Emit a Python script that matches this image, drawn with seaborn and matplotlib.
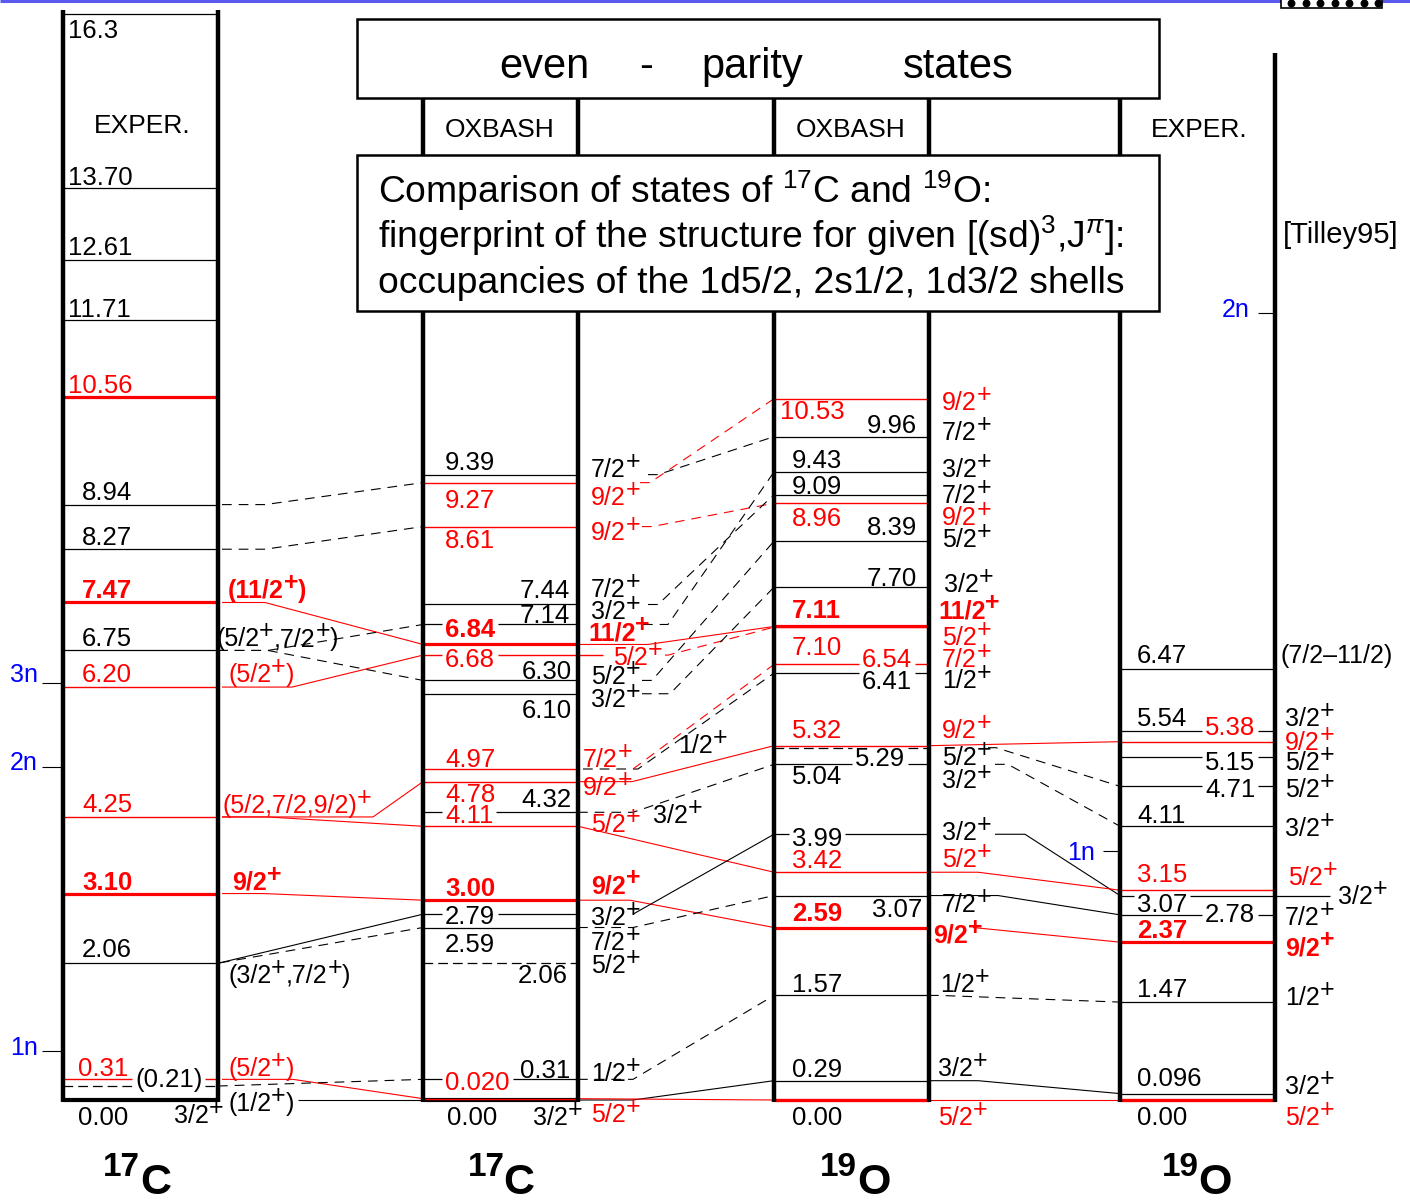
import matplotlib
matplotlib.use("Agg")
import matplotlib.pyplot as plt
import matplotlib.patches as mpatches
import matplotlib.transforms as mtransforms
from matplotlib.font_manager import FontProperties
import seaborn as sns

# ------------------------------------------------------------------ data
# Level energies in MeV as printed; spins use "^" for a superscript.
# kind: k black, kd black dashed, r red, rt thick red, R thick red (bold),
#       K thick black ground state, rg thick red ground state

# 17C, experiment
c17_exp_levels = ["16.3", "13.70", "12.61", "11.71", "10.56", "8.94", "8.27",
                  "7.47", "6.75", "6.20", "4.25", "3.10", "2.06", "0.31",
                  "(0.21)", "0.00"]
c17_exp_jpi = ["", "", "", "", "", "", "", "(11/2^+)", "(5/2^+,7/2^+)",
               "(5/2^+)", "(5/2,7/2,9/2)^+", "9/2^+", "(3/2^+,7/2^+)",
               "(5/2^+)", "", "3/2^+"]
c17_exp_kind = ["k", "k", "k", "k", "rt", "k", "k", "R", "k", "r", "r", "R",
                "k", "r", "kd", "K"]

# 17C, OXBASH shell model
c17_sm_levels = ["9.39", "9.27", "8.61", "7.44", "7.14", "6.84", "6.68", "6.30",
                 "6.10", "4.97", "4.78", "4.32", "4.11", "3.00", "2.79", "2.59",
                 "2.06", "0.31", "0.020", "0.00"]
c17_sm_jpi = ["7/2^+", "9/2^+", "9/2^+", "7/2^+", "3/2^+", "11/2^+", "5/2^+",
              "5/2^+", "3/2^+", "7/2^+", "9/2^+", "3/2^+", "5/2^+", "9/2^+",
              "3/2^+", "7/2^+", "5/2^+", "1/2^+", "5/2^+", "3/2^+"]
c17_sm_kind = ["k", "r", "r", "k", "k", "R", "r", "k", "k", "r", "r", "k", "r",
               "R", "k", "k", "kd", "k", "r", "K"]

# 19O, OXBASH shell model
o19_sm_levels = ["10.53", "9.96", "9.43", "9.09", "8.96", "8.39", "7.70", "7.11",
                 "7.10", "6.54", "6.41", "5.32", "5.29", "5.04", "3.99", "3.42",
                 "3.07", "2.59", "1.57", "0.29", "0.00"]
o19_sm_jpi = ["9/2^+", "7/2^+", "3/2^+", "7/2^+", "9/2^+", "5/2^+", "3/2^+",
              "11/2^+", "5/2^+", "7/2^+", "1/2^+", "9/2^+", "5/2^+", "3/2^+",
              "3/2^+", "5/2^+", "7/2^+", "9/2^+", "1/2^+", "3/2^+", "5/2^+"]
o19_sm_kind = ["r", "k", "k", "k", "r", "k", "k", "R", "r", "r", "k", "r", "kd",
               "k", "k", "r", "k", "R", "k", "k", "rg"]

# 19O, experiment [Tilley95]
o19_exp_levels = ["6.47", "5.54", "5.38", "5.15", "4.71", "4.11", "3.15", "3.07",
                  "2.78", "2.37", "1.47", "0.096", "0.00"]
o19_exp_jpi = ["(7/2\u201311/2)", "3/2^+", "9/2^+", "5/2^+", "5/2^+", "3/2^+",
               "5/2^+", "3/2^+", "7/2^+", "9/2^+", "1/2^+", "3/2^+", "5/2^+"]
o19_exp_kind = ["k", "k", "r", "k", "k", "k", "r", "k", "k", "R", "k", "k", "rg"]

# correspondences between neighbouring columns (source MeV, target MeV)
links_c17 = [(8.94, 9.27), (8.27, 8.61), (7.47, 6.84), (6.75, 7.14), (6.75, 6.30),
             (6.20, 6.68), (4.25, 4.11), (4.25, 4.78), (3.10, 3.00), (2.06, 2.79),
             (2.06, 2.59), (0.31, 0.020), (0.21, 0.31), (0.00, 0.00)]
links_sm = [(9.39, 9.96), (9.27, 10.53), (8.61, 8.96), (7.44, 9.09), (7.14, 9.43),
            (6.84, 7.11), (6.68, 7.10), (6.30, 8.39), (6.10, 7.70), (4.97, 6.41),
            (4.97, 6.54), (4.78, 5.32), (4.32, 5.04), (4.11, 3.42), (3.00, 2.59),
            (2.79, 3.99), (2.59, 3.07), (0.31, 1.57), (0.00, 0.29), (0.020, 0.00)]
links_o19 = [(5.32, 5.38), (5.29, 4.71), (5.04, 4.11), (3.99, 3.07), (3.42, 3.15),
             (3.07, 2.78), (2.59, 2.37), (1.57, 1.47), (0.29, 0.096), (0.00, 0.00)]

# particle-emission thresholds (MeV)
c17_thr_names = ["3n", "2n", "1n"]
c17_thr_E = [6.26, 5.00, 0.74]
o19_thr_names = ["2n", "1n"]
o19_thr_E = [11.82, 3.74]

# ---------------------------------------------------------------- layout
W, H = 1410, 1202
Y0 = 1100            # pixel row of the 0 MeV line
PX_PER_MEV = 66.6
VAL_SIZE = 18.5
SPIN_SIZE = 18
SUP_RAISE = 8

# value label: (x, dy, align, breaks lines) ; spin label: (x, dy)
c17_exp_vlab = [(68, -24, "l", 0), (68, 3, "l", 0), (68, 5, "l", 0), (68, 3, "l", 0),
                (68, 4, "l", 0), (82, 5, "l", 0), (82, 4, "l", 0), (82, 4, "l", 0),
                (82, 4, "l", 0), (82, 5, "l", 0), (82, 5, "l", 0), (82, 4, "l", 0),
                (82, 6, "l", 0), (78, 3, "l", 0), (135, -1, "l", 1), (78, -25, "l", 0)]
c17_exp_slab = [None, None, None, None, None, None, None, (228, 4), (216, 4),
                (228, 5), (222, 4), (232, 4), (228, -20), (228, 3), None, (174, -23)]

c17_sm_vlab = [(445, 5, "l", 0), (445, -25, "l", 0), (445, -21, "l", 0),
               (570, 6, "r", 0), (570, 1, "r", 0), (445, 7, "l", 1),
               (445, -12, "l", 1), (572, 1, "r", 0), (572, -24, "r", 0),
               (445, 2, "l", 0), (445, -20, "l", 0), (572, 5, "r", 0),
               (445, 3, "l", 1), (445, 4, "l", 0), (445, -10, "l", 1),
               (445, -24, "l", 0), (568, -20, "r", 0), (570, 1, "r", 0),
               (445, 9, "l", 1), (447, -25, "l", 0)]
c17_sm_slab = [(591, -2), (591, -22), (591, -13), (591, 7), (591, 5), (588, 4),
               (613, -10), (591, -4), (591, -13), (583, 2), (583, -13), (653, -11),
               (591, -6), (591, 7), (591, -11), (591, -22), (591, -10), (591, -2),
               (591, -23), (533, -25)]

o19_sm_vlab = [(780, -20, "l", 0), (917, 4, "r", 0), (792, 4, "l", 0),
               (792, 1, "l", 0), (792, -23, "l", 0), (917, 6, "r", 0),
               (917, 1, "r", 0), (792, 8, "l", 0), (792, -28, "l", 0),
               (912, -3, "r", 1), (912, -16, "r", 1), (792, 8, "l", 0),
               (905, -18, "r", 1), (792, -20, "l", 0), (792, -12, "l", 1),
               (792, 4, "l", 0), (922, -21, "r", 0), (792, 7, "l", 0),
               (792, 3, "l", 0), (792, 4, "l", 0), (792, -25, "l", 0)]
o19_sm_slab = [(942, -11), (942, -3), (942, -5), (942, -8), (942, -22), (942, -6),
               (944, -5), (938, 8), (942, -18), (942, -3), (942, -15), (942, 8),
               (942, -17), (942, -24), (942, -6), (942, 5), (942, -16), (933, -15),
               (940, 3), (938, 5), (938, -25)]

o19_exp_vlab = [(1137, 6, "l", 0), (1137, 5, "l", 0), (1205, 7, "l", 1),
                (1205, -13, "l", 1), (1205, -11, "l", 1), (1137, 3, "l", 0),
                (1137, 8, "l", 0), (1137, -16, "l", 1), (1205, -7, "l", 1),
                (1137, 4, "l", 0), (1137, 5, "l", 0), (1137, 8, "l", 0),
                (1137, -25, "l", 0)]
o19_exp_slab = [(1280, 6), (1285, 5), (1285, -8), (1285, -13), (1285, -11),
                (1285, -10), (1288, 5), (1338, -8), (1285, -10), (1285, -13),
                (1285, -3), (1285, 0), (1285, -25)]

# connector routing: (style, x where the run starts, x where the slope starts)
route_c17 = [("k--", 222, 265), ("k--", 222, 265), ("r-", 222, 265), ("k--", 218, 268),
             ("k--", 218, 268), ("r-", 222, 292), ("r-", 222, 267), ("r-", 222, 373),
             ("r-", 222, 263), ("k-", 220, 220), ("k--", 220, 220), ("r-", 222, 293),
             ("k--", 218, 218), ("k-", 298, 298)]
route_sm = [("k--", 648, 658), ("r--", 640, 650), ("r--", 642, 652), ("k--", 648, 658),
            ("k--", 643, 668), ("r-", 578, 648), ("r--", 665, 668), ("k--", 642, 652),
            ("k--", 642, 670), ("k--", 583, 638), ("r--", 633, 633), ("r-", 578, 632),
            ("k--", 578, 633), ("r-", 578, 578), ("r-", 578, 630), ("k-", 633, 633),
            ("k--", 578, 633), ("k--", 578, 633), ("k-", 578, 633), ("r-", 578, 578)]
route_o19 = [("r-", 929, 929), ("k--", 988, 996), ("k--", 995, 1008), ("k-", 995, 1025),
             ("r-", 929, 978), ("k-", 929, 998), ("r-", 973, 973), ("k--", 929, 940),
             ("k-", 929, 978), ("r-", 929, 929)]

# ----------------------------------------------------------------- style
sns.set_theme(style="white")
FONT = ["Liberation Sans", "DejaVu Sans"]
plt.rcParams.update({
    "font.family": FONT,
    "text.color": "black",
    "mathtext.fontset": "custom",
    "mathtext.rm": "Liberation Sans",
    "mathtext.it": "Liberation Sans:italic",
    "mathtext.bf": "Liberation Sans:bold",
    "lines.scale_dashes": False,
    "lines.solid_capstyle": "butt",
    "lines.dash_capstyle": "butt",
})

RED, BLACK, BLUE = "#ff0000", "#000000", "#0000ff"
LEVEL_STYLE = {
    "k": dict(color=BLACK, lw=0.9, ls="-"),
    "kd": dict(color=BLACK, lw=0.9, ls=(0, (7, 3.6))),
    "r": dict(color=RED, lw=1.0, ls="-"),
    "rt": dict(color=RED, lw=2.3, ls="-"),
    "R": dict(color=RED, lw=2.3, ls="-"),
    "K": dict(color=BLACK, lw=3.0, ls="-"),
    "rg": dict(color=RED, lw=2.4, ls="-"),
}
DASH = (0, (7, 5))

fig = plt.figure(figsize=(W / 100, H / 100), dpi=100)
ax = fig.add_axes([0, 0, 1, 1])
ax.set_xlim(0, W)
ax.set_ylim(-(H - Y0) / PX_PER_MEV, Y0 / PX_PER_MEV)
ax.axis("off")
renderer = fig.canvas.get_renderer()
# pixel frame (x right, y down) for the boxes and headings
tpx = mtransforms.Affine2D().scale(1, -1).translate(0, H)


def energy(s):
    return float(s.strip("()"))


def ypix(E):
    return Y0 - PX_PER_MEV * E


def fprop(size, bold=False):
    return FontProperties(family=FONT, size=size,
                          weight="bold" if bold else "normal")


def text_width(s, fp):
    w, _, _ = renderer.get_text_width_height_descent(s, fp, ismath=False)
    return w


def rich(x, E, s, dy, color, bold, size):
    """Left-aligned label; the character after '^' is raised."""
    fp = fprop(size, bold)
    parts, buf, i = [], "", 0
    while i < len(s):
        if s[i] == "^":
            if buf:
                parts.append((buf, 0))
                buf = ""
            parts.append((s[i + 1], 1))
            i += 2
        else:
            buf += s[i]
            i += 1
    if buf:
        parts.append((buf, 0))
    cx = x
    for t, sup in parts:
        ax.annotate(t, xy=(cx, E), xytext=(0, dy + SUP_RAISE * sup),
                    textcoords="offset pixels", ha="left", va="baseline",
                    color=color, fontproperties=fp, zorder=6,
                    annotation_clip=False)
        cx += text_width(t, fp)
    return cx


def segments(xa, xb, gaps):
    out, cur = [], xa
    for g0, g1 in sorted(gaps):
        if g1 <= cur or g0 >= xb:
            continue
        if g0 > cur:
            out.append((cur, g0))
        cur = max(cur, g1)
    if cur < xb:
        out.append((cur, xb))
    return out


columns = [
    dict(levels=c17_exp_levels, jpi=c17_exp_jpi, kind=c17_exp_kind,
         vlab=c17_exp_vlab, slab=c17_exp_slab, xl=63, xr=218, top=10),
    dict(levels=c17_sm_levels, jpi=c17_sm_jpi, kind=c17_sm_kind,
         vlab=c17_sm_vlab, slab=c17_sm_slab, xl=423, xr=578, top=311),
    dict(levels=o19_sm_levels, jpi=o19_sm_jpi, kind=o19_sm_kind,
         vlab=o19_sm_vlab, slab=o19_sm_slab, xl=774, xr=929, top=311),
    dict(levels=o19_exp_levels, jpi=o19_exp_jpi, kind=o19_exp_kind,
         vlab=o19_exp_vlab, slab=o19_exp_slab, xl=1120, xr=1275, top=311),
]
# levels whose line runs on past the column edge
line_end = {(1, "6.68"): 603, (3, "3.07"): 1330}

# labels that sit on a line cut a gap into it
gaps = []
for col in columns:
    for lev, kind, (x, dy, ha, cut) in zip(col["levels"], col["kind"], col["vlab"]):
        if not cut:
            continue
        fp = fprop(VAL_SIZE, kind == "R")
        w = text_width(lev, fp)
        x0 = x if ha == "l" else x - w
        base = ypix(energy(lev)) - dy
        gaps.append((base - 19.5, base + 2, x0 - 3, x0 + w + 3))

# level lines and labels
for ci, col in enumerate(columns):
    order = sorted(range(len(col["levels"])),
                   key=lambda i: -LEVEL_STYLE[col["kind"][i]]["lw"])
    for i in order:
        lev, kind = col["levels"][i], col["kind"][i]
        E = energy(lev)
        st = LEVEL_STYLE[kind]
        y = ypix(E)
        xb = line_end.get((ci, lev), col["xr"])
        cuts = [(g0, g1) for lo, hi, g0, g1 in gaps if lo <= y <= hi]
        for s0, s1 in segments(col["xl"], xb, cuts):
            ax.plot([s0, s1], [E, E], color=st["color"], lw=st["lw"],
                    ls=st["ls"], zorder=3)
    for lev, kind, jpi, (x, dy, ha, cut), sl in zip(col["levels"], col["kind"],
                                                   col["jpi"], col["vlab"],
                                                   col["slab"]):
        E = energy(lev)
        spin_color = RED if kind in ("r", "rt", "R", "rg") else BLACK
        color = BLACK if kind == "rg" else spin_color
        bold = kind == "R"
        fp = fprop(VAL_SIZE, bold)
        x0 = x if ha == "l" else x - text_width(lev, fp)
        ax.annotate(lev, xy=(x0, E), xytext=(0, dy), textcoords="offset pixels",
                    ha="left", va="baseline", color=color, fontproperties=fp,
                    zorder=6, annotation_clip=False)
        if sl is not None and jpi:
            rich(sl[0], E, jpi, sl[1], spin_color, bold, SPIN_SIZE)

# extra spin labels (alternative assignment, unlabelled SM state)
rich(228, 0.00, "(1/2^+)", -11, BLACK, False, SPIN_SIZE)
rich(678, 4.97, "1/2^+", 16, BLACK, False, SPIN_SIZE)

# connectors between columns
for links, routes, x_dst in ((links_c17, route_c17, 423),
                             (links_sm, route_sm, 774),
                             (links_o19, route_o19, 1120)):
    for (e1, e2), (style, xa, xb) in zip(links, routes):
        color = RED if style[0] == "r" else BLACK
        ls = DASH if style.endswith("--") else "-"
        ax.plot([xa, xb, x_dst], [e1, e1, e2], color=color, lw=0.8, ls=ls,
                zorder=2)

# thresholds
for name, E, dy in zip(c17_thr_names, c17_thr_E, [1, -3, -4]):
    ax.plot([42, 63], [E, E], color=BLACK, lw=0.8, zorder=2)
    ax.annotate(name, xy=(38, E), xytext=(0, dy), textcoords="offset pixels",
                ha="right", va="baseline", color=BLUE, fontproperties=fprop(18))
for name, E, (x0, x1), dy in zip(o19_thr_names, o19_thr_E,
                                 [(1258, 1275), (1103, 1120)], [-4, -9]):
    ax.plot([x0, x1], [E, E], color=BLACK, lw=0.8, zorder=2)
    ax.annotate(name, xy=(x0 - 8, E), xytext=(0, dy), textcoords="offset pixels",
                ha="right", va="baseline", color=BLUE, fontproperties=fprop(18))

# ------------------------------------------------------------ frame & text
VLW = 3.2
for col in columns:
    for xv in (col["xl"], col["xr"]):
        top = col["top"]
        if xv == 1275:
            top = 53
        ax.plot([xv, xv], [top, Y0 + 2], color=BLACK, lw=VLW, transform=tpx,
                zorder=4, clip_on=False)
for xv in (423, 578, 774, 929, 1120):
    ax.plot([xv, xv], [98, 155], color=BLACK, lw=VLW, transform=tpx, zorder=4)

for (x0, y0, w, h) in ((357, 19, 802, 79), (357, 155, 802, 156)):
    ax.add_patch(mpatches.Rectangle((x0, y0), w, h, transform=tpx, fill=False,
                                    lw=1.8, edgecolor=BLACK, zorder=4))

# top rule and the small marker box
ax.plot([0, W], [1, 1], color="#5a5af0", lw=2.2, transform=tpx, clip_on=False)
ax.add_patch(mpatches.Rectangle((1281, -2), 101, 10, transform=tpx,
                                facecolor="white", edgecolor=BLACK, lw=1.2,
                                zorder=5, clip_on=False))
ax.scatter([1291 + 14.5 * k for k in range(7)], [3] * 7, s=22, color=BLACK,
           transform=tpx, zorder=6, clip_on=False)

for word, xc in (("even", 544), ("-", 646), ("parity", 752), ("states", 958)):
    ax.text(xc, 78, word, transform=tpx, ha="center", va="baseline",
            color=BLACK, fontproperties=fprop(30))
for xc in (500, 851):
    ax.text(xc, 137, "OXBASH", transform=tpx, ha="center", va="baseline",
            color=BLACK, fontproperties=fprop(19))
ax.text(142, 133, "EXPER.", transform=tpx, ha="center", va="baseline",
        color=BLACK, fontproperties=fprop(19))
ax.text(1199, 137, "EXPER.", transform=tpx, ha="center", va="baseline",
        color=BLACK, fontproperties=fprop(19))
ax.text(1283, 243, "[Tilley95]", transform=tpx, ha="left", va="baseline",
        color=BLACK, fontproperties=fprop(21))

box_lines = ["Comparison of states of $^{17}$C and $^{19}$O:",
             "fingerprint of the structure for given [(sd)$^{3}$,J$^{\\pi}$]:",
             "occupancies of the 1d5/2, 2s1/2, 1d3/2 shells"]
for k, line in enumerate(box_lines):
    ax.text(378, 203 + 45 * k, line, transform=tpx, ha="left", va="baseline",
            color=BLACK, fontsize=26.8)

# nucleus names under the columns
for mass, sym, xm, xs in (("17", "C", 103, 140), ("17", "C", 468, 503),
                          ("19", "O", 820, 857), ("19", "O", 1162, 1198)):
    ax.text(xm, 1176, mass, transform=tpx, ha="left", va="baseline",
            color=BLACK, fontproperties=fprop(24, True))
    ax.text(xs, 1194, sym, transform=tpx, ha="left", va="baseline",
            color=BLACK, fontproperties=fprop(31, True))

fig.savefig("out.png", dpi=100)
